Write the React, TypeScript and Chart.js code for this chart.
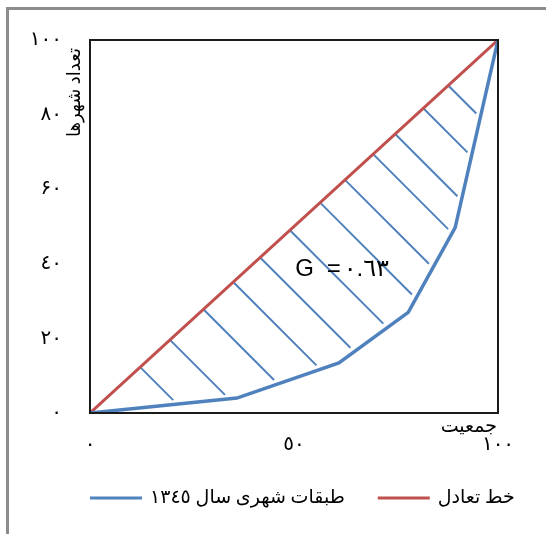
import React, { useEffect, useRef } from "react";
import { Chart, registerables } from "chart.js";

Chart.register(...registerables);

// ---- data ----
const populationShare = [0, 36, 61, 78, 89.5, 100];
const cityShare = [0, 4, 13.4, 27, 49.7, 100];
const equalityX = [0, 100];
const equalityY = [0, 100];
const xTicks = [0, 50, 100];
const xTickLabels = ["٠", "٥٠", "١٠٠"];
const yTicks = [0, 20, 40, 60, 80, 100];
const yTickLabels = ["٠", "٢٠", "٤٠", "۶٠", "٨٠", "١٠٠"];
const seriesNames = ["طبقات شهری سال ١٣٤٥", "خط تعادل"];
const xTitle = "جمعیت";
const yTitle = "تعداد شهرها";
const giniLabel = "G =٠.٦٣";
const giniPos = [61.8, 38.6];
const hatchStarts = [12.3, 19.6, 27.8, 35.1, 41.7, 49, 56.4, 62.5, 69.4, 74.8, 81.7, 87.8];

const BLUE = "#4F81BD";
const RED = "#C0504D";
const SERIF = "'Liberation Serif', 'DejaVu Sans', serif";

const decorPlugin = {
  id: "decor",
  beforeDatasetsDraw(chart: any) {
    const { ctx } = chart;
    const xs = chart.scales.x;
    const ys = chart.scales.y;
    const pts = populationShare.map((v, i) => [xs.getPixelForValue(v), ys.getPixelForValue(cityShare[i])]);
    ctx.save();
    ctx.strokeStyle = BLUE;
    ctx.lineWidth = 2;
    const gap = 4;
    hatchStarts.forEach((h) => {
      const px = xs.getPixelForValue(h);
      const py = ys.getPixelForValue(h);
      let best = Infinity;
      for (let i = 0; i < pts.length - 1; i++) {
        const [ax, ay] = pts[i];
        const [bx, by] = pts[i + 1];
        const dx = bx - ax;
        const dy = by - ay;
        if (Math.abs(dy - dx) < 1e-9) continue;
        const s = ((ax - px) - (ay - py)) / (dy - dx);
        const t = ax - px + s * dx;
        if (s >= 0 && s <= 1 && t > 0 && t < best) best = t;
      }
      if (best < Infinity) {
        const t = Math.max(0, best - gap);
        ctx.beginPath();
        ctx.moveTo(px, py);
        ctx.lineTo(px + t, py + t);
        ctx.stroke();
      }
    });
    ctx.restore();
  },
  afterDatasetsDraw(chart: any) {
    const { ctx, chartArea } = chart;
    const xs = chart.scales.x;
    const ys = chart.scales.y;
    ctx.save();
    // plot frame
    ctx.strokeStyle = "#1a1a1a";
    ctx.lineWidth = 2;
    ctx.strokeRect(chartArea.left, chartArea.top, chartArea.right - chartArea.left, chartArea.bottom - chartArea.top);
    // Gini label
    ctx.fillStyle = "#000";
    ctx.font = "24px 'Liberation Sans', 'DejaVu Sans', sans-serif";
    (ctx as any).letterSpacing = "3px";
    ctx.textAlign = "center";
    ctx.textBaseline = "middle";
    ctx.fillText(giniLabel, xs.getPixelForValue(giniPos[0]), ys.getPixelForValue(giniPos[1]));
    (ctx as any).letterSpacing = "0px";
    // x title
    ctx.font = `19px ${SERIF}`;
    ctx.textAlign = "right";
    ctx.textBaseline = "middle";
    ctx.fillText(xTitle, chartArea.right - 1, chartArea.bottom + 14);
    // y title
    ctx.save();
    ctx.font = `18px ${SERIF}`;
    ctx.translate(chartArea.left - 15, chartArea.top + 8);
    ctx.rotate(-Math.PI / 2);
    ctx.textAlign = "right";
    ctx.textBaseline = "middle";
    ctx.fillText(yTitle, 0, 0);
    ctx.restore();
    // legend
    const ly = 498;
    let x = chartArea.left;
    ctx.font = `19px ${SERIF}`;
    ctx.textAlign = "left";
    ctx.textBaseline = "middle";
    chart.data.datasets.forEach((ds: any) => {
      ctx.strokeStyle = ds.borderColor;
      ctx.lineWidth = 3;
      ctx.beginPath();
      ctx.moveTo(x, ly);
      ctx.lineTo(x + 52, ly);
      ctx.stroke();
      x += 52 + 8;
      ctx.fillStyle = "#000";
      ctx.fillText(ds.label, x, ly);
      x += ctx.measureText(ds.label).width + 33;
    });
    ctx.restore();
  },
};

export default function App() {
  const ref = useRef<HTMLCanvasElement>(null);
  useEffect(() => {
    if (!ref.current) return;
    const chart = new Chart(ref.current, {
      type: "line",
      data: {
        datasets: [
          {
            label: seriesNames[0],
            data: populationShare.map((x, i) => ({ x, y: cityShare[i] })),
            borderColor: BLUE,
            backgroundColor: BLUE,
            borderWidth: 3.5,
            pointRadius: 0,
            tension: 0,
            order: 1,
          },
          {
            label: seriesNames[1],
            data: equalityX.map((x, i) => ({ x, y: equalityY[i] })),
            borderColor: RED,
            backgroundColor: RED,
            borderWidth: 3,
            pointRadius: 0,
            order: 2,
          },
        ],
      },
      options: {
        animation: false,
        responsive: false,
        layout: { padding: { left: 0, right: 48, top: 35, bottom: 61 } },
        scales: {
          x: {
            type: "linear",
            min: 0,
            max: 100,
            afterFit: (s: any) => {
              s.height = 60;
            },
            afterBuildTicks: (s: any) => {
              s.ticks = xTicks.map((v) => ({ value: v }));
            },
            grid: { display: false, drawTicks: false },
            border: { display: false },
            ticks: {
              padding: 20,
              maxRotation: 0,
              autoSkip: false,
              color: "#000",
              font: { family: SERIF, size: 20 },
              callback: (v: any) => xTickLabels[xTicks.indexOf(Number(v))],
            },
          },
          y: {
            type: "linear",
            min: 0,
            max: 100,
            afterFit: (s: any) => {
              s.width = 90;
            },
            afterBuildTicks: (s: any) => {
              s.ticks = yTicks.map((v) => ({ value: v }));
            },
            grid: { display: false, drawTicks: false },
            border: { display: false },
            ticks: {
              padding: 28,
              autoSkip: false,
              color: "#000",
              font: { family: SERIF, size: 20 },
              callback: (v: any) => yTickLabels[yTicks.indexOf(Number(v))],
            },
          },
        },
        plugins: {
          legend: { display: false },
          tooltip: { enabled: false },
        },
      },
      plugins: [decorPlugin],
    } as any);
    return () => chart.destroy();
  }, []);

  return (
    <div style={{ position: "absolute", left: 0, top: 0, width: 546, height: 534, background: "#fff" }}>
      <div
        style={{
          position: "absolute",
          left: 6,
          top: 7,
          right: 0,
          bottom: 0,
          borderTop: "3px solid #8c8c8c",
          borderLeft: "3px solid #8c8c8c",
        }}
      />
      <canvas ref={ref} width={546} height={534} style={{ position: "absolute", left: 0, top: 0, width: 546, height: 534 }} />
    </div>
  );
}
